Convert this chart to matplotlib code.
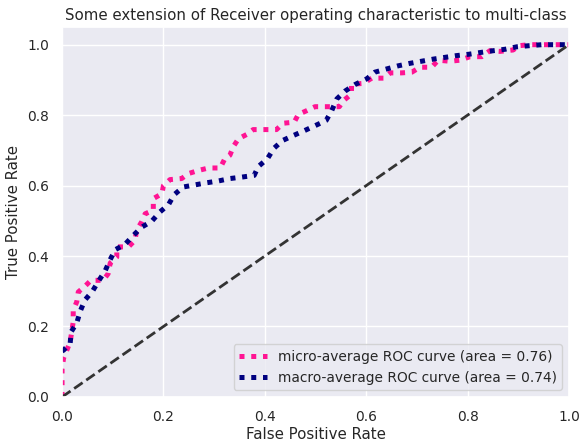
import matplotlib

matplotlib.use("Agg")
import matplotlib.pyplot as plt
import seaborn as sns

# micro-average ROC
micro_fpr = [0.0, 0.0, 0.0, 0.003, 0.016, 0.022, 0.022, 0.029, 0.032, 0.045, 0.057, 0.081,
             0.091, 0.095, 0.108, 0.108, 0.131, 0.144, 0.147, 0.157, 0.164, 0.18, 0.18,
             0.197, 0.2, 0.213, 0.236, 0.249, 0.269, 0.289, 0.312, 0.321, 0.331, 0.338,
             0.348, 0.364, 0.377, 0.4, 0.423, 0.436, 0.458, 0.466, 0.483, 0.499, 0.522,
             0.547, 0.555, 0.571, 0.571, 0.594, 0.611, 0.634, 0.647, 0.67, 0.69, 0.706,
             0.729, 0.742, 0.765, 0.785, 0.805, 0.828, 0.844, 0.864, 0.89, 0.9, 0.923, 1.0]
micro_tpr = [0.0, 0.04, 0.08, 0.11, 0.156, 0.213, 0.246, 0.27, 0.298, 0.314, 0.331, 0.331,
             0.35, 0.38, 0.397, 0.426, 0.426, 0.445, 0.473, 0.497, 0.52, 0.53, 0.563,
             0.577, 0.6, 0.617, 0.62, 0.634, 0.643, 0.65, 0.65, 0.676, 0.686, 0.711,
             0.733, 0.745, 0.759, 0.759, 0.759, 0.777, 0.78, 0.802, 0.813, 0.824, 0.824,
             0.824, 0.841, 0.86, 0.888, 0.89, 0.905, 0.905, 0.92, 0.92, 0.922, 0.936,
             0.936, 0.956, 0.953, 0.956, 0.966, 0.966, 0.983, 0.981, 0.985, 0.997, 1.0, 1.0]

# macro-average ROC
macro_fpr = [0.0, 0.003, 0.016, 0.018, 0.029, 0.036, 0.045, 0.06, 0.072, 0.085, 0.095,
             0.105, 0.124, 0.141, 0.157, 0.177, 0.193, 0.21, 0.221, 0.239, 0.262, 0.285,
             0.308, 0.331, 0.354, 0.379, 0.387, 0.405, 0.418, 0.435, 0.456, 0.478, 0.499,
             0.521, 0.532, 0.542, 0.558, 0.578, 0.601, 0.617, 0.64, 0.663, 0.686, 0.709,
             0.732, 0.755, 0.778, 0.803, 0.826, 0.851, 0.874, 0.897, 0.92, 0.946, 1.0]
macro_tpr = [0.13, 0.133, 0.152, 0.185, 0.21, 0.244, 0.275, 0.3, 0.329, 0.358, 0.39,
             0.418, 0.433, 0.459, 0.482, 0.499, 0.525, 0.546, 0.574, 0.596, 0.602, 0.608,
             0.613, 0.62, 0.624, 0.629, 0.654, 0.676, 0.706, 0.728, 0.742, 0.756, 0.77,
             0.785, 0.813, 0.846, 0.868, 0.887, 0.903, 0.922, 0.931, 0.94, 0.947, 0.953,
             0.959, 0.964, 0.969, 0.973, 0.978, 0.983, 0.987, 0.994, 0.997, 1.0, 1.0]

micro_auc = 0.76
macro_auc = 0.74

sns.set_theme(font_scale=0.9)
plt.rcParams["font.family"] = ["DejaVu Sans"]

fig = plt.figure(figsize=(5.8, 4.44), dpi=100)
ax = fig.add_axes([0.107, 0.106, 0.874, 0.833])

dots = (0, (1, 1.35))
ax.plot(micro_fpr, micro_tpr, color="deeppink", linestyle=dots, linewidth=3.6,
        label=f"micro-average ROC curve (area = {micro_auc:.2f})")
ax.plot(macro_fpr, macro_tpr, color="navy", linestyle=dots, linewidth=3.6,
        label=f"macro-average ROC curve (area = {macro_auc:.2f})")
ax.plot([0, 1], [0, 1], linestyle="--", lw=2, color="#333333")

ax.set_xlim([0.0, 1.0])
ax.set_ylim([0.0, 1.05])
ax.set_xlabel("False Positive Rate", labelpad=2)
ax.set_ylabel("True Positive Rate")
ax.set_title("Some extension of Receiver operating characteristic to multi-class", pad=5)
ax.legend(loc="lower right")

fig.savefig("out.png", dpi=100)
